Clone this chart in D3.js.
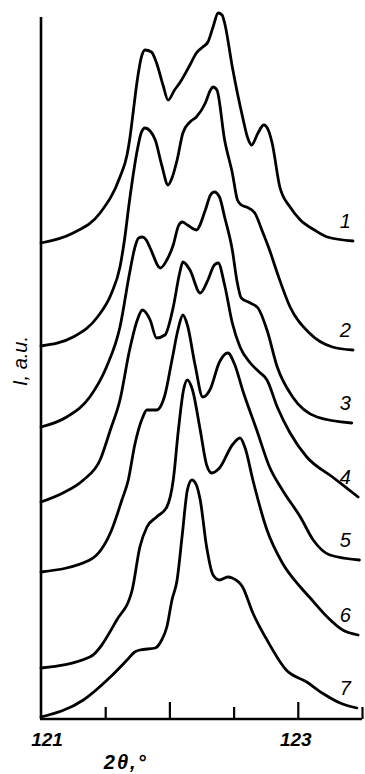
<!DOCTYPE html>
<html>
<head>
<meta charset="utf-8">
<script src="https://cdn.jsdelivr.net/npm/d3@7"></script>
<style>
  html, body { margin: 0; padding: 0; background: #fff; }
  svg text { font-family: "Liberation Sans", "DejaVu Sans", sans-serif; font-style: italic; fill: #000; }
</style>
</head>
<body>
<div class="chart"></div>
<script>
// 2θ (deg) and intensity (a.u., stacked)
const theta1 = [121.00, 121.25, 121.46, 121.615, 121.67, 121.69, 121.72, 121.75, 121.78, 121.81, 121.86, 121.90, 121.95, 121.99, 122.04, 122.08, 122.16, 122.21, 122.26, 122.30, 122.34, 122.38, 122.41, 122.43, 122.49, 122.57, 122.61, 122.64, 122.69, 122.735, 122.77, 122.80, 122.86, 122.94, 123.02, 123.13, 123.23, 123.43];
const int1   = [47.6, 48.6, 50.6, 54.2, 56.4, 57.9, 60.9, 63.9, 66.1, 66.9, 66.7, 65.6, 63.4, 61.9, 62.9, 63.6, 65.4, 66.6, 67.2, 67.7, 69.2, 70.6, 70.4, 69.6, 65.2, 60.2, 58.1, 57.4, 58.6, 59.4, 58.9, 57.6, 53.2, 51.2, 49.9, 48.9, 48.2, 47.8];

const theta2 = [121.00, 121.25, 121.44, 121.55, 121.615, 121.65, 121.69, 121.75, 121.78, 121.81, 121.85, 121.89, 121.94, 121.99, 122.02, 122.06, 122.105, 122.16, 122.21, 122.28, 122.32, 122.34, 122.37, 122.43, 122.49, 122.53, 122.56, 122.60, 122.665, 122.72, 122.78, 122.84, 122.94, 123.09, 123.27, 123.43];
const int2   = [37.3, 38.2, 40.2, 42.6, 45.2, 47.9, 51.9, 56.9, 58.6, 59.1, 58.8, 57.9, 55.4, 53.4, 54.1, 55.9, 58.6, 59.7, 60.2, 61.6, 62.9, 63.2, 62.9, 57.9, 54.6, 51.9, 51.4, 51.2, 50.6, 48.9, 46.9, 44.6, 41.2, 38.6, 37.2, 36.9];

const theta3 = [121.00, 121.20, 121.38, 121.51, 121.615, 121.69, 121.73, 121.76, 121.79, 121.82, 121.85, 121.93, 121.98, 122.03, 122.07, 122.10, 122.14, 122.21, 122.28, 122.32, 122.35, 122.39, 122.43, 122.49, 122.525, 122.56, 122.63, 122.69, 122.76, 122.84, 122.96, 123.15, 123.42];
const int3   = [29.2, 30.2, 32.2, 35.2, 39.2, 44.6, 47.1, 48.1, 48.2, 47.9, 47.1, 45.1, 45.9, 47.4, 49.3, 49.7, 49.4, 48.9, 50.9, 52.4, 52.7, 52.2, 50.2, 46.9, 43.9, 42.1, 41.6, 41.1, 38.9, 35.2, 32.2, 30.2, 29.6];

const theta4 = [121.00, 121.17, 121.33, 121.46, 121.54, 121.615, 121.69, 121.75, 121.79, 121.85, 121.90, 121.965, 122.03, 122.08, 122.105, 122.16, 122.24, 122.30, 122.35, 122.38, 122.43, 122.49, 122.55, 122.63, 122.70, 122.76, 122.84, 122.94, 123.07, 123.27, 123.47];
const int4   = [21.7, 22.6, 23.9, 25.9, 28.9, 31.9, 36.9, 39.9, 40.9, 39.9, 38.1, 38.4, 41.2, 44.6, 45.7, 44.9, 42.6, 43.9, 45.4, 45.6, 43.4, 39.6, 37.2, 35.6, 34.7, 33.9, 31.2, 28.6, 26.2, 24.2, 22.2];

const theta5 = [121.00, 121.38, 121.55, 121.63, 121.68, 121.73, 121.79, 121.825, 121.90, 121.965, 122.02, 122.07, 122.105, 122.14, 122.20, 122.26, 122.315, 122.39, 122.455, 122.51, 122.57, 122.68, 122.78, 122.88, 123.02, 123.12, 123.25, 123.48];
const int5   = [14.7, 15.9, 18.9, 21.9, 23.9, 27.4, 30.1, 30.9, 30.9, 32.4, 35.9, 39.1, 40.4, 39.4, 35.4, 32.2, 32.9, 35.7, 36.6, 35.4, 32.9, 28.9, 25.2, 22.9, 20.2, 17.9, 16.4, 15.9];

const theta6 = [121.00, 121.38, 121.59, 121.71, 121.77, 121.825, 121.90, 121.98, 122.03, 122.07, 122.11, 122.14, 122.18, 122.24, 122.29, 122.33, 122.39, 122.49, 122.55, 122.59, 122.65, 122.76, 122.88, 123.02, 123.09, 123.23, 123.35, 123.47];
const int6   = [5.1, 6.2, 9.9, 12.9, 17.2, 19.2, 20.2, 21.2, 23.9, 28.9, 32.9, 33.9, 32.9, 28.9, 25.4, 24.6, 25.1, 27.4, 28.1, 27.1, 23.9, 18.9, 15.6, 13.2, 12.2, 10.2, 8.9, 8.4];

const theta7 = [121.00, 121.33, 121.54, 121.67, 121.73, 121.77, 121.89, 121.94, 121.98, 122.02, 122.06, 122.10, 122.14, 122.175, 122.21, 122.24, 122.29, 122.34, 122.39, 122.455, 122.49, 122.57, 122.65, 122.76, 122.91, 123.07, 123.19, 123.33, 123.46];
const int7   = [0.2, 1.9, 4.2, 5.9, 6.7, 6.9, 7.1, 7.9, 9.2, 11.9, 13.9, 18.4, 22.9, 23.9, 23.4, 21.9, 17.2, 14.4, 13.9, 14.2, 14.1, 13.2, 10.6, 7.9, 4.9, 3.7, 2.6, 1.6, 1.1];

const seriesLabels = ["1", "2", "3", "4", "5", "6", "7"];
const xTickValues = [121.5, 122, 122.5, 123, 123.5];
const xTickLabels = ["121", "123"];
const xTitle = "2θ,°";
const yTitle = "I, a.u.";

// Layout
const width = 365;
const height = 774;
const margin = {top: 17, right: 3, bottom: 55, left: 41};
const labelTheta = 123.37;

const series = [
  [theta1, int1], [theta2, int2], [theta3, int3], [theta4, int4],
  [theta5, int5], [theta6, int6], [theta7, int7]
].map(([t, v], i) => ({
  label: seriesLabels[i],
  points: t.map((d, j) => ({theta: d, value: v[j]}))
}));

const x = d3.scaleLinear()
  .domain([121, 123.5])
  .range([margin.left, width - margin.right]);
const y = d3.scaleLinear()
  .domain([0, 70.2])
  .range([height - margin.bottom, margin.top]);

const svg = d3.select(".chart").append("svg")
  .attr("width", width)
  .attr("height", height)
  .attr("viewBox", [0, 0, width, height]);

svg.append("rect")
  .attr("width", width)
  .attr("height", height)
  .attr("fill", "#fff");

// Curves
const line = d3.line()
  .x(d => x(d.theta))
  .y(d => y(d.value))
  .curve(d3.curveMonotoneX);

svg.append("g")
  .attr("fill", "none")
  .attr("stroke", "#000")
  .attr("stroke-width", 2.8)
  .attr("stroke-linejoin", "round")
  .attr("stroke-linecap", "round")
  .selectAll("path")
  .data(series)
  .join("path")
  .attr("d", d => line(d.points));

// Curve numbers, just above the right end of each curve
svg.append("g")
  .attr("font-size", 20)
  .attr("text-anchor", "middle")
  .selectAll("text")
  .data(series)
  .join("text")
  .attr("x", x(labelTheta))
  .attr("y", d => y(d.points[d.points.length - 1].value) - 13)
  .text(d => d.label);

// X axis, ticks pointing inward; integer ticks are longer
const xAxis = g => g
  .attr("transform", `translate(0,${y(0)})`)
  .call(d3.axisBottom(x)
    .tickValues(xTickValues)
    .tickSize(0)
    .tickFormat(""))
  .call(g => g.select(".domain")
    .attr("stroke-width", 2.6)
    .attr("d", `M${x(121) - 1},0H${x(123.5)}`))
  .call(g => g.selectAll(".tick line")
    .attr("stroke-width", 2.2)
    .attr("y2", d => Number.isInteger(d) ? -17 : -12));

svg.append("g").call(xAxis);

// Y axis: plain line, no ticks
svg.append("line")
  .attr("x1", x(121))
  .attr("x2", x(121))
  .attr("y1", margin.top)
  .attr("y2", y(0))
  .attr("stroke", "#000")
  .attr("stroke-width", 2.6);

// Tick labels
svg.append("g")
  .attr("font-size", 19)
  .attr("font-weight", "bold")
  .attr("text-anchor", "middle")
  .selectAll("text")
  .data(xTickLabels)
  .join("text")
  .attr("x", d => x(+d) + (d === "121" ? 6 : -2))
  .attr("y", y(0) + 27)
  .text(d => d);

// Axis titles
svg.append("text")
  .attr("x", x(121.66))
  .attr("y", height - 5)
  .attr("text-anchor", "middle")
  .attr("font-size", 20)
  .attr("font-weight", "bold")
  .attr("letter-spacing", 2)
  .text(xTitle);

svg.append("text")
  .attr("transform", `translate(27,${y(35.8)}) rotate(-90)`)
  .attr("text-anchor", "middle")
  .attr("font-size", 20)
  .text(yTitle);
</script>
</body>
</html>
